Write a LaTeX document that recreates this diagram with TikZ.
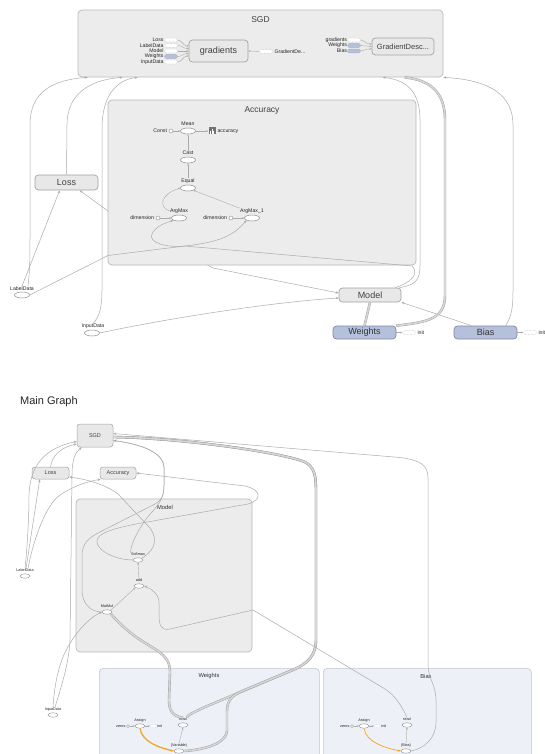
\documentclass[tikz,border=0pt]{standalone}
\usepackage{fontspec}
\setmainfont{Liberation Sans}
\usetikzlibrary{shapes.geometric,arrows.meta,calc}
\newcommand\myfs[1]{\fontsize{#1}{#1}\selectfont}
\definecolor{edgec}{HTML}{ABABAB}
\definecolor{contfill}{HTML}{ECECEC}
\definecolor{contdraw}{HTML}{B9B9B9}
\definecolor{boxfill}{HTML}{E8E8E8}
\definecolor{boxdraw}{HTML}{A3A3A3}
\definecolor{varfill}{HTML}{B5C0DA}
\definecolor{vardraw}{HTML}{7F8AA8}
\definecolor{bcontfill}{HTML}{EDF0F7}
\definecolor{bcontdraw}{HTML}{C2C6CF}
\definecolor{orangeE}{HTML}{F5A623}
\begin{document}
\begin{tikzpicture}[x=1pt,y=-1pt,
 cont/.style={draw=contdraw, fill=contfill, rounded corners=4pt, line width=0.7pt, inner sep=0},
 bcont/.style={draw=bcontdraw, fill=bcontfill, rounded corners=4pt, line width=0.6pt, inner sep=0},
 opbox/.style={draw=boxdraw, fill=boxfill, rounded corners=3.5pt, line width=0.7pt, inner sep=0, text=black!75, font=\myfs{9}},
 varbox/.style={opbox, draw=vardraw, fill=varfill, text=black!80},
 sbox/.style={opbox, font=\myfs{5.5}, rounded corners=3pt, line width=0.5pt},
 op/.style={ellipse, draw=black!45, fill=white, line width=0.5pt, minimum width=15pt, minimum height=6pt, inner sep=0},
 sop/.style={ellipse, draw=black!45, fill=white, line width=0.4pt, minimum width=10pt, minimum height=4.5pt, inner sep=0},
 cst/.style={circle, draw=black!45, fill=white, line width=0.4pt, minimum size=4pt, inner sep=0},
 scst/.style={circle, draw=black!45, fill=white, line width=0.35pt, minimum size=3pt, inner sep=0},
 pill/.style={draw=black!30, fill=white, rounded corners=1.5pt, densely dotted, line width=0.4pt, minimum width=13pt, minimum height=3.8pt, inner sep=0},
 vpill/.style={pill, solid, draw=vardraw!70, fill=varfill},
 spill/.style={draw=black!30, fill=white, rounded corners=1pt, densely dotted, line width=0.3pt, minimum width=6pt, minimum height=2.6pt, inner sep=0},
 lbl/.style={font=\myfs{5.2}, text=black!85, inner sep=0.3pt},
 slbl/.style={font=\myfs{3.8}, text=black!85, inner sep=0.2pt},
 ttl/.style={font=\myfs{8.5}, text=black!75, inner sep=0},
 ttlS/.style={font=\myfs{5.8}, text=black!80, inner sep=0},
 e/.style={draw=edgec, line width=0.5pt, -{Stealth[length=3pt,width=2.4pt]}},
 es/.style={draw=edgec, line width=0.4pt, -{Stealth[length=2.2pt,width=1.8pt]}},
 ethick/.style={draw=black!38, double=black!16, double distance=1.6pt, line width=0.4pt},
 eor/.style={draw=orangeE, -{Stealth[length=2.6pt,width=2.2pt]}}
]
\useasboundingbox (0,0) rectangle (545,754);
\fill[white] (0,0) rectangle (545,754);

%================ TOP: expanded graph =================
\node[cont, minimum width=365pt, minimum height=67pt] (sgdT) at (260.5,43.5) {};
\node[ttl] (sgdTt) at (260.5,20) {SGD};
\node[opbox, minimum width=59pt, minimum height=22pt] (gradT) at (218.5,51) {gradients};
\node[opbox, minimum width=62pt, minimum height=17pt, font=\myfs{7.5}] (gdT) at (403,46.5) {GradientDesc...};
% inputs of gradients
\node[pill] (p1) at (171,40) {};   \node[lbl,anchor=east] (p1l) at (164,40) {Loss};
\node[pill] (p2) at (171,45.5) {}; \node[lbl,anchor=east] (p2l) at (164,45.5) {LabelData};
\node[pill] (p3) at (171,51) {};   \node[lbl,anchor=east] (p3l) at (164,51) {Model};
\node[vpill] (p4) at (171,56.5) {};\node[lbl,anchor=east] (p4l) at (164,56.5) {Weights};
\node[pill] (p5) at (171,62) {};   \node[lbl,anchor=east] (p5l) at (164,62) {InputData};
\draw[es] (p1.east) .. controls (182,40) and (183,46) .. ([yshift=5pt]gradT.west);
\draw[es] (p2.east) .. controls (182,45.5) and (183,48.5) .. ([yshift=2.5pt]gradT.west);
\draw[es] (p3.east) -- (gradT.west);
\draw[es] (p4.east) .. controls (182,56.5) and (183,53.5) .. ([yshift=-2.5pt]gradT.west);
\draw[es] (p5.east) .. controls (182,62) and (183,56) .. ([yshift=-5pt]gradT.west);
\node[pill] (gdp) at (266,51.5) {};
\node[lbl,anchor=west] (gdpl) at (274,51.5) {GradientDe...};
\draw[es] (gdp.west) -- (gradT.east);
% inputs of GradientDescent
\node[pill] (q1) at (354,40) {};   \node[lbl,anchor=east] (q1l) at (347.5,40) {gradients};
\node[vpill] (q2) at (354,45.5) {};\node[lbl,anchor=east] (q2l) at (347.5,45.5) {Weights};
\node[vpill] (q3) at (354,51) {};  \node[lbl,anchor=east] (q3l) at (347.5,51) {Bias};
\draw[es] (q1.east) .. controls (364,40) and (365,44) .. ([yshift=2.5pt]gdT.west);
\draw[es] (q2.east) -- (gdT.west);
\draw[es] (q3.east) .. controls (364,51) and (365,49) .. ([yshift=-2.5pt]gdT.west);

% outer nodes
\node[opbox, minimum width=63pt, minimum height=15pt] (lossT) at (66.5,182.5) {Loss};
\node[op] (ldT) at (22,295) {};  \node[lbl] (ldTl) at (22,288.5) {LabelData};
\node[op] (inT) at (92,333) {};  \node[lbl] (inTl) at (93,326.5) {InputData};
\node[opbox, minimum width=62pt, minimum height=14pt] (modelT) at (370,295) {Model};
\node[varbox, minimum width=63pt, minimum height=13pt] (wT) at (364.5,332.5) {Weights};
\node[varbox, minimum width=63pt, minimum height=13pt] (bT) at (485.5,332.5) {Bias};
\node[pill] (wTi) at (409,332.5) {}; \node[lbl,anchor=west] (wTil) at (417,332.5) {init};
\node[pill] (bTi) at (530,332.5) {}; \node[lbl,anchor=west] (bTil) at (538,332.5) {init};
\draw[es] (wT.east) -- (wTi.west);
\draw[es] (bT.east) -- (bTi.west);

% Model <-> Loss, passing behind Accuracy
\draw[draw=edgec, line width=0.5pt, {Stealth[length=3pt,width=2.4pt]}-{Stealth[length=3pt,width=2.4pt]}]
  ($(lossT.south west)+(45,0)$) -- (108,211) -- (213,268) -- ([yshift=2pt]modelT.west);

% Accuracy group
\node[cont, minimum width=308pt, minimum height=165pt] (accT) at (262,182.5) {};
\node[ttl] (accTt) at (262,110.5) {Accuracy};
\node[op] (mean) at (188,131) {};  \node[lbl] (meanl) at (188,124) {Mean};
\node[cst] (const) at (171,131) {}; \node[lbl,anchor=east] (constl) at (167.5,131) {Const};
\node[fill=black!55, minimum size=7pt, inner sep=0] (accsum) at (212,131) {};
\fill[white] (209.6,133.6) rectangle (210.6,130.6);
\fill[white] (211.5,133.6) rectangle (212.5,128.6);
\fill[white] (213.4,133.6) rectangle (214.4,131.4);
\node[lbl,anchor=west] (accsuml) at (217,131.5) {accuracy};
\node[op] (cast) at (188,160) {};  \node[lbl] (castl) at (188,153) {Cast};
\node[op] (equal) at (188,188) {}; \node[lbl] (equall) at (188,181) {Equal};
\node[op] (am) at (179,218) {};    \node[lbl] (aml) at (179,211) {ArgMax};
\node[cst] (dim1) at (158,218) {}; \node[lbl,anchor=east] (dim1l) at (154.5,218) {dimension};
\node[op] (am1) at (252,218) {};   \node[lbl] (am1l) at (252,211) {ArgMax\_1};
\node[cst] (dim2) at (231,218) {}; \node[lbl,anchor=east] (dim2l) at (227.5,218) {dimension};
\draw[es] (const) -- (mean);
\draw[es] (mean) -- (accsum);
\draw[es] (castl.north) -- (mean.south);
\draw[es] (equall.north) -- (cast.south);
\draw[es] (aml.west) .. controls (158,207) and (161,194) .. (equal.west);
\draw[es] (am1l.north west) -- (equal.south east);
\draw[es] (dim1) -- (am);
\draw[es] (dim2) -- (am1);
\coordinate (jn) at (185,246);
\draw[e] (ldT.east) -- (108,255.5) -- (jn) .. controls (220,242) and (233,236) .. (am1.south west);
\draw[e] ($(modelT.north east)+(-6,0)$) .. controls (410,283) and (420,274) .. (412,266) -- (jn)
  .. controls (165,248) and (148,242) .. (152,234) .. controls (156,226) and (165,223) .. (am.south west);

% edges to SGD (top)
\draw[e] ($(ldTl.north)+(6,0)$) .. controls (30,270) and (30,255) .. (30,235) -- (30,125)
  .. controls (30,92) and (52,80) .. ($(sgdT.south west)+(10,0)$);
\draw[e] (ldTl.north) -- ($(lossT.south west)+(25,0)$);
\draw[e] (lossT.north) -- (67,125) .. controls (67,95) and (88,80) .. ($(sgdT.south west)+(45,0)$);
\draw[e] (inTl.north) .. controls (100,316) and (102,306) .. (102,290) -- (102,128)
  .. controls (102,98) and (115,80) .. ($(sgdT.south west)+(60,0)$);
\draw[e] (inT.east) .. controls (150,322) and (260,303) .. ([yshift=-3pt]modelT.west);
\draw[e] ($(modelT.north east)+(-2,0)$) .. controls (416,285) and (420,280) .. (420,265) -- (420,120)
  .. controls (420,93) and (408,80) .. ($(sgdT.south west)+(305,0)$);
\draw[ethick] (wT.north) -- (modelT.south);
\draw[e] ($(bT.north west)+(18,0)$) -- (modelT.south east);
\draw[ethick] (wT.north east) .. controls (430,322) and (445,318) .. (445,295) -- (445,120)
  .. controls (445,92) and (430,80) .. ($(sgdT.south west)+(327,0)$);
\draw[e] ($(bT.north west)+(52,0)$) .. controls (512,316) and (513,306) .. (513,290) -- (513,125)
  .. controls (513,95) and (490,80) .. (sgdT.south east);

%================ BOTTOM: main graph =================
\node[font=\myfs{11}, text=black!85, anchor=west, inner sep=0] (mg) at (20,402) {Main Graph};
\node[cont, minimum width=176pt, minimum height=153pt] (modelB) at (164,575.5) {};
\node[ttlS] (modelBt) at (165,507.5) {Model};
\node[bcont, minimum width=220pt, minimum height=100pt, anchor=north west] (wB) at (99,668) {};
\node[ttlS] (wBt) at (209,676) {Weights};
\node[bcont, minimum width=208pt, minimum height=100pt, anchor=north west] (bB) at (323,668) {};
\node[ttlS] (bBt) at (426,676) {Bias};

\node[sbox, minimum width=36pt, minimum height=23pt] (sgdB) at (95,435.5) {SGD};
\node[sbox, minimum width=37pt, minimum height=12pt] (lossB) at (50.5,473) {Loss};
\node[sbox, minimum width=36pt, minimum height=12pt] (accB) at (118,473) {Accuracy};

\node[sop] (ldB) at (25,576) {};  \node[slbl] (ldBl) at (25,570.5) {LabelData};
\node[sop] (inB) at (53,715) {};  \node[slbl] (inBl) at (53,709.5) {InputData};
\node[sop] (smx) at (138,560) {}; \node[slbl] (smxl) at (138,554.5) {Softmax};
\node[sop] (add) at (139,586) {}; \node[slbl] (addl) at (139,580.5) {add};
\node[sop] (mm) at (107,612) {};  \node[slbl] (mml) at (107,606.5) {MatMul};

% Weights internals
\node[scst] (wz) at (128,726) {}; \node[slbl,anchor=east] (wzl) at (125.8,726) {zeros};
\node[sop] (wa) at (140,726) {};  \node[slbl] (wal) at (140,720.5) {Assign};
\node[spill] (wi) at (153,726) {}; \node[slbl,anchor=west] (wil) at (157,726) {init};
\node[sop] (wr) at (183,725) {};  \node[slbl] (wrl) at (183,719.5) {read};
\node[sop] (wv) at (179,751) {};  \node[slbl] (wvl) at (179,745.5) {(Variable)};
\draw[es] (wz) -- (wa);
\draw[es] (wa) -- (wi);
\draw[eor, line width=1.3pt] (wa.south) .. controls (142,742) and (160,748) .. (wv.west);
\draw[es] (wvl.north) -- (wr.south);

% Bias internals
\node[scst] (bz) at (352,726) {}; \node[slbl,anchor=east] (bzl) at (349.8,726) {zeros};
\node[sop] (ba) at (364,726) {};  \node[slbl] (bal) at (364,720.5) {Assign};
\node[spill] (bi) at (377,726) {}; \node[slbl,anchor=west] (bil) at (381,726) {init};
\node[sop] (br) at (407,725) {};  \node[slbl] (brl) at (407,719.5) {read};
\node[sop] (bv) at (406,751) {};  \node[slbl] (bvl) at (406,745.5) {(Bias)};
\draw[es] (bz) -- (ba);
\draw[es] (ba) -- (bi);
\draw[eor, line width=0.7pt] (ba.south) .. controls (366,742) and (385,748) .. (bv.west);
\draw[es] (bvl.north) -- (br.south);

% bottom edges
\draw[ethick] ($(sgdB.east)+(0,1.5)$) .. controls (180,438) and (280,452) .. (305,462)
  .. controls (314,467) and (316,475) .. (316,490) -- (316,640)
  .. controls (316,655) and (308,663) .. (295,669) -- (205,707) .. controls (192,713) and (186,716) .. (wrl.north east);
\draw[ethick] ($(sgdB.east)+(0,1.5)$) .. controls (180,438) and (280,452) .. (305,462)
  .. controls (314,467) and (316,475) .. (316,490) -- (316,640)
  .. controls (316,655) and (308,663) .. (295,669) -- (240,692) .. controls (230,697) and (227,702) .. (227,712)
  -- (227,730) .. controls (227,745) and (200,750) .. (wv.east);
\draw[e] (bv.east) .. controls (425,748) and (436,738) .. (436,722) -- (436,700)
  .. controls (436,685) and (428,678) .. (428,665) -- (428,478)
  .. controls (428,465) and (420,460) .. (400,457.5) -- ($(sgdB.east)+(0,-2)$);
\draw[e] (brl.north) .. controls (403,708) and (395,695) .. (385,689) -- (253,610) -- (170,629)
  .. controls (161,631) and (159,625) .. (159,615) -- (159,603) .. controls (159,594) and (152,589) .. (add.east);
\draw[ethick] (wrl.north) .. controls (172,716) and (169,710) .. (169,700) -- (170,672)
  .. controls (170,662) and (166,657) .. (158,651) -- (142,641) .. controls (128,632) and (118,622) .. (mm.south east);
\draw[es] (mm.north east) -- (add.south west);
\draw[es] (addl.north) -- (smx.south);
\draw[e] (inBl.north) .. controls (54,690) and (57,672) .. (63,657) .. controls (70,640) and (85,620) .. (mm.west);
\draw[e] ($(inBl.north)+(2,0)$) .. controls (60,690) and (69,665) .. (70,640) -- (72,475)
  .. controls (72,458) and (76,452) .. ($(sgdB.south west)+(5,0)$);
\draw[e] (ldBl.north) .. controls (27,550) and (29,520) .. (29,495) .. controls (30,465) and (45,448) .. ($(sgdB.west)+(0,6)$);
\draw[e] ($(ldBl.north)+(1,0)$) -- ($(lossB.south west)+(8,0)$);
\draw[e] ($(ldBl.north)+(3,0)$) .. controls (32,545) and (45,505) .. (60,495) .. controls (75,485) and (90,481) .. ($(accB.south west)+(1,0)$);
\draw[e] (lossB.north) .. controls (52,455) and (62,447) .. ($(sgdB.west)+(0,8.5)$);
\draw[e] (smx.north east) .. controls (152,552) and (160,542) .. (150,528) -- (118,494)
  .. controls (105,484) and (85,479) .. ($(lossB.east)+(0,4)$);
\draw[e] (smx.west) .. controls (118,560) and (100,553) .. (97,543) .. controls (95,534) and (110,528) .. (153,521)
  -- (248,504) .. controls (262,500) and (262,490) .. (245,486) -- (accB.east);
\draw[e] (smxl.north west) .. controls (130,545) and (140,525) .. (152,512) .. controls (160,503) and (164,497) .. (164,485)
  -- (164,468) .. controls (164,452) and (140,444) .. ($(sgdB.east)+(0,5)$);
\draw[e] (mm.west) .. controls (90,612) and (82,603) .. (82,590) -- (82,556) .. controls (82,544) and (88,538) .. (100,532)
  -- (155,504) .. controls (162,500) and (164,495) .. (164,485) -- (164,468) .. controls (164,452) and (140,444) .. ($(sgdB.east)+(0,5)$);
\end{tikzpicture}
\end{document}
